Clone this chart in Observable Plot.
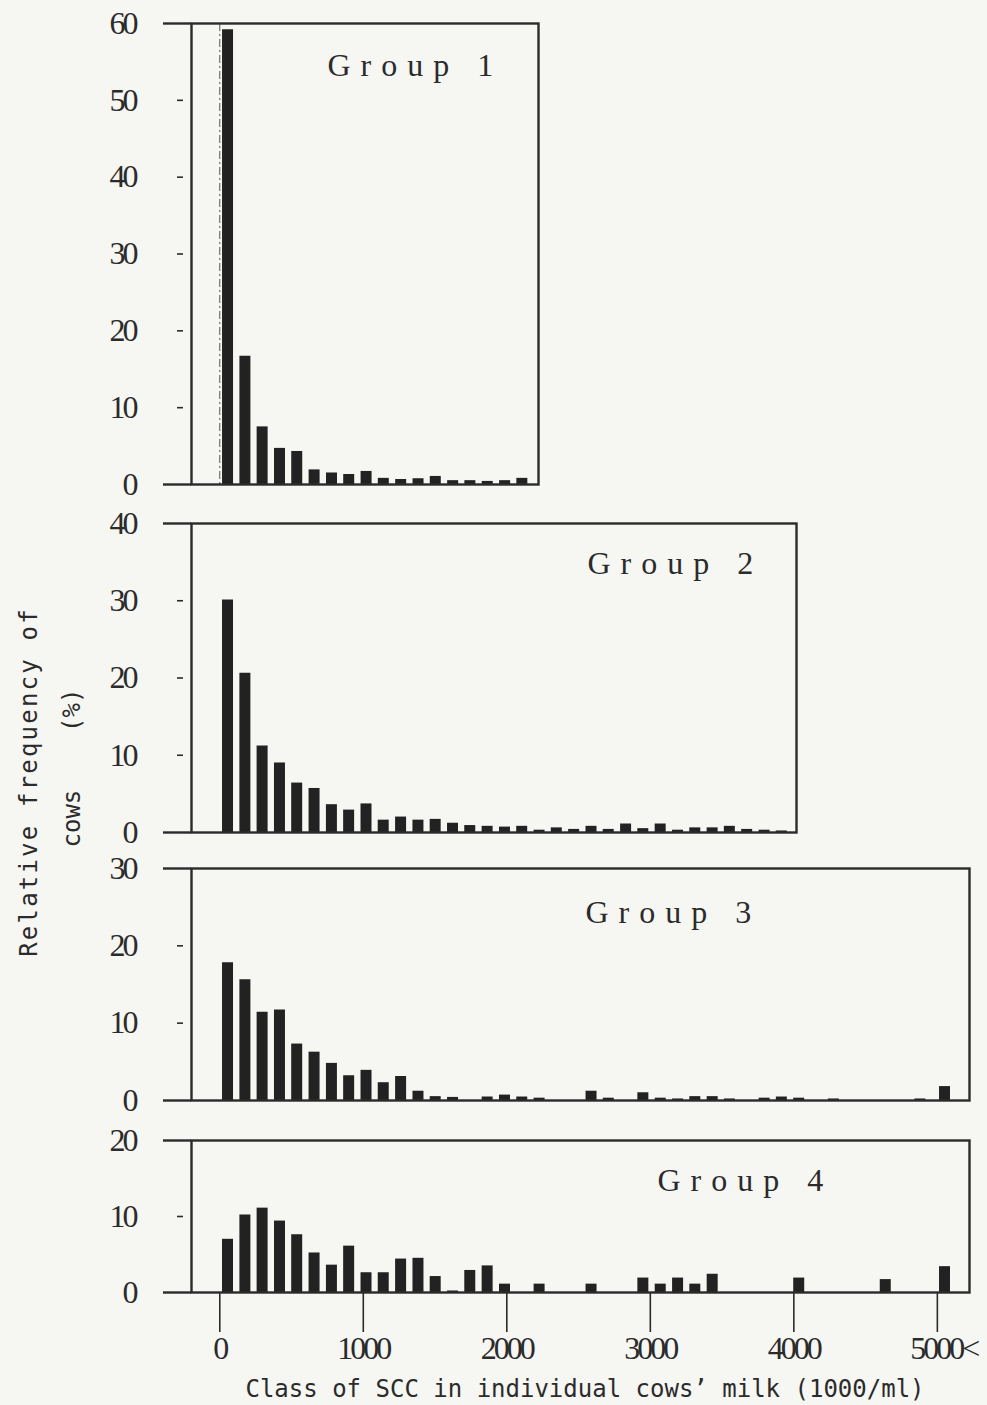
<!DOCTYPE html>
<html>
<head>
<meta charset="utf-8">
<script src="https://cdn.jsdelivr.net/npm/d3@7"></script>
<script src="https://cdn.jsdelivr.net/npm/@observablehq/plot@0.6"></script>
<style>
  html, body { margin: 0; padding: 0; background: #f6f6f3; }
  #chart { position: relative; width: 987px; height: 1405px; overflow: hidden; }
  #chart svg { position: absolute; left: 0; }
  g[aria-label="y-axis tick label"] text,
  g[aria-label="x-axis tick label"] text { letter-spacing: -3px; }
  .ytitle, .xtitle {
    position: absolute; font-family: "DejaVu Sans Mono", monospace; font-size: 24px;
    line-height: 24px; color: #2b2b2b; white-space: pre;
  }
  .ytitle { transform: translate(-50%, -50%) rotate(-90deg); }
  .xtitle { transform: translateX(-50%); }
</style>
</head>
<body>
<div id="chart"></div>
<script>
// Class positions (1000/ml) as drawn along the x axis; last one is the "5000<" class
const classMid = [54, 175, 295, 416, 536, 657, 778, 898, 1019, 1139, 1260, 1381, 1501, 1622,
  1742, 1863, 1984, 2104, 2225, 2345, 2466, 2587, 2707, 2828, 2948, 3069, 3190, 3310, 3431,
  3551, 3672, 3793, 3913, 4034, 4154, 4275, 4396, 4516, 4637, 4757, 4878, 5050];

// Relative frequency of cows (%) per class
const group1 = [59.2, 16.7, 7.5, 4.7, 4.3, 1.9, 1.5, 1.3, 1.7, 0.8, 0.65, 0.75, 1.05, 0.5, 0.5, 0.4, 0.5, 0.8];
const group2 = [30.1, 20.6, 11.2, 9.0, 6.4, 5.7, 3.6, 2.9, 3.7, 1.6, 2.0, 1.6, 1.7, 1.2, 0.9, 0.8, 0.7,
  0.8, 0.3, 0.6, 0.4, 0.8, 0.4, 1.1, 0.5, 1.1, 0.3, 0.6, 0.6, 0.8, 0.4, 0.3, 0.2];
const group3 = [17.8, 15.6, 11.4, 11.7, 7.3, 6.25, 4.8, 3.2, 3.9, 2.3, 3.1, 1.2, 0.5, 0.4, 0, 0.45, 0.7,
  0.45, 0.3, 0, 0, 1.2, 0.3, 0, 1.0, 0.3, 0.2, 0.5, 0.5, 0.2, 0, 0.3, 0.45, 0.3, 0, 0.2, 0, 0, 0, 0, 0.2, 1.8];
const group4 = [7.0, 10.2, 11.1, 9.4, 7.6, 5.2, 3.6, 6.1, 2.6, 2.6, 4.4, 4.5, 2.1, 0.2, 2.9, 3.5, 1.1,
  0, 1.1, 0, 0, 1.1, 0, 0, 1.9, 1.1, 1.9, 1.1, 2.4, 0, 0, 0, 0, 1.9, 0, 0, 0, 0, 1.7, 0, 0, 3.4];

const groupNames = ["Group 1", "Group 2", "Group 3", "Group 4"];
const yMaxes = [60, 40, 30, 20];
const xMaxes = [2220, 4019, 5224, 5224];
const xTicks = [0, 1000, 2000, 3000, 4000, 5000];
const xTickLabels = ["0", "1000", "2000", "3000", "4000", "\u20075000<"];
const xTitle = "Class of SCC in individual cows\u2019 milk (1000/ml)";
const yTitle1 = "Relative frequency of";
const yTitle2 = "cows    (%)";

const ink = "#2b2b2b";
const layout = [
  {top: 0,    height: 503, mt: 23, mb: 19,  mr: 449, ldx: 136, ldy: 52},
  {top: 503,  height: 347, mt: 20, mb: 18,  mr: 191, ldx: 396, ldy: 50},
  {top: 850,  height: 270, mt: 18, mb: 20,  mr: 18,  ldx: 394, ldy: 54},
  {top: 1120, height: 285, mt: 20, mb: 113, mr: 18,  ldx: 466, ldy: 50}
];
const series = [group1, group2, group3, group4];
const chart = document.getElementById("chart");

series.forEach((vals, gi) => {
  const L = layout[gi];
  const yMax = yMaxes[gi];
  const rows = vals.map((v, i) => ({x: classMid[i], v})).filter(d => d.v > 0);
  const allTicks = d3.range(0, yMax + 1, 10);
  const innerTicks = allTicks.filter(t => t > 0 && t < yMax);
  const marks = [
    Plot.ruleX(rows, {x: "x", y1: 0, y2: "v", stroke: "#222", strokeWidth: 11}),
    Plot.frame({stroke: ink, strokeWidth: 2.4}),
    Plot.axisY({ticks: allTicks, tickSize: 0, tickPadding: 56, label: null, fontSize: 32, fontFamily: "Liberation Serif", fill: ink}),
    Plot.axisY({ticks: innerTicks, tickSize: 6, dx: -8, label: null, tickFormat: () => "", stroke: ink, strokeWidth: 1.6}),
    Plot.axisY({ticks: [0, yMax], tickSize: 28, label: null, tickFormat: () => "", stroke: ink, strokeWidth: 2.4}),
    Plot.text([groupNames[gi]], {text: d => d, frameAnchor: "top-left", dx: L.ldx, dy: L.ldy,
      textAnchor: "start", lineAnchor: "bottom", fontSize: 32, fontFamily: "Liberation Serif",
      fill: ink})
  ];
  if (gi === 0) {
    marks.splice(1, 0, Plot.ruleX([0], {stroke: "#555", strokeWidth: 1, strokeDasharray: "8,3,2,3"}));
  }
  if (gi === 3) {
    marks.push(Plot.axisX({ticks: xTicks, tickSize: 40, tickPadding: 4, label: null,
      tickFormat: (d) => xTickLabels[xTicks.indexOf(d)], fontSize: 32,
      fontFamily: "Liberation Serif", stroke: ink, fill: ink, strokeWidth: 1.6}));
  }
  const svg = Plot.plot({
    width: 987,
    height: L.height,
    marginLeft: 191,
    marginRight: L.mr,
    marginTop: L.mt,
    marginBottom: L.mb,
    style: {background: "transparent", fontFamily: "Liberation Serif", fontSize: "32px", color: ink, overflow: "visible"},
    x: {type: "linear", domain: [-197, xMaxes[gi]], axis: gi === 3 ? undefined : null, label: null},
    y: {domain: [0, yMax], label: null},
    marks
  });
  d3.select(svg).selectAll("text")
    .filter(function() { return this.textContent === groupNames[gi]; })
    .attr("letter-spacing", 10);
  svg.style.top = L.top + "px";
  chart.appendChild(svg);
});

const t1 = document.createElement("div");
t1.className = "ytitle"; t1.textContent = yTitle1;
t1.style.left = "29px"; t1.style.top = "782px"; t1.style.letterSpacing = "2.2px";
chart.appendChild(t1);
const t2 = document.createElement("div");
t2.className = "ytitle"; t2.textContent = yTitle2;
t2.style.left = "72px"; t2.style.top = "768px";
chart.appendChild(t2);
const tx = document.createElement("div");
tx.className = "xtitle"; tx.textContent = xTitle;
tx.style.left = "585px"; tx.style.top = "1377px";
chart.appendChild(tx);
</script>
</body>
</html>
